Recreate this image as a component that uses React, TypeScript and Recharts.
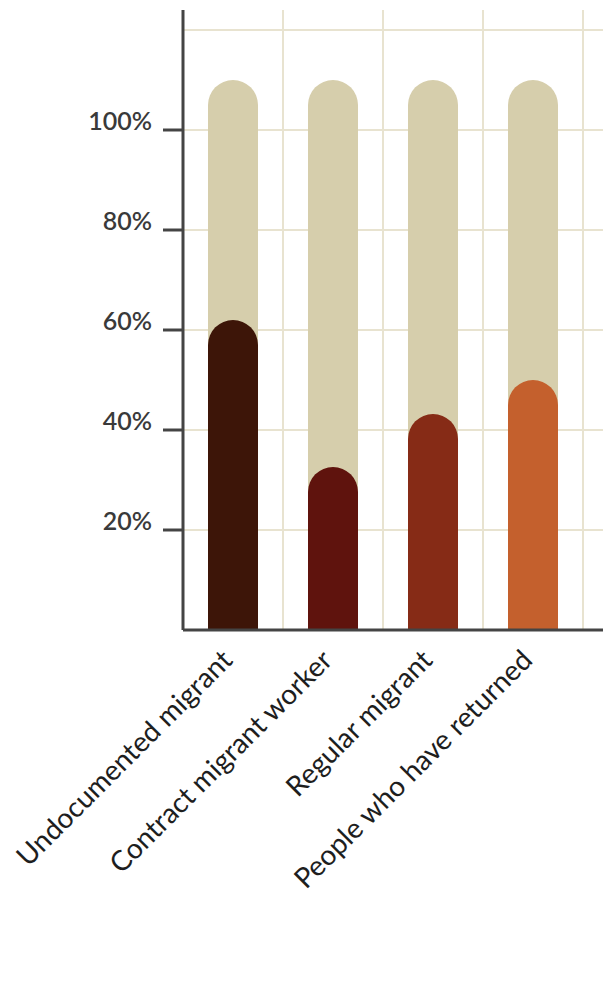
import { BarChart, Bar, XAxis, YAxis, CartesianGrid, Cell } from 'recharts';

const categories = ['Undocumented migrant', 'Contract migrant worker', 'Regular migrant', 'People who have returned'];
const shares = [0.62, 0.326, 0.432, 0.5];
const backdrop = [1.1, 1.1, 1.1, 1.1];
const barColors = ['#3d1508', '#5f130d', '#862b16', '#c4602d'];
const yTicks = [0, 0.2, 0.4, 0.6, 0.8, 1.0, 1.2];
const yMax = 1.24;

const data = categories.map((name, i) => ({ name, share: shares[i], backdrop: backdrop[i] }));

const FONT = 'Lato, "Noto Sans", sans-serif';
const GRID = '#e8e3d0';

const YTick = (props: any) => {
    const { x, y, payload } = props;
    if (payload.value === 0 || payload.value > 1.05) return null;
    return (
        <g>
            <line x1={x - 20} y1={y} x2={x} y2={y} stroke="#444" strokeWidth={3} />
            <text x={x - 31} y={y} textAnchor="end" fill="#3a3a3a" fontFamily={FONT} fontSize={25} fontWeight={600}>
                {Math.round(payload.value * 100)}%
            </text>
        </g>
    );
};

const XTick = (props: any) => {
    const { x, y, payload } = props;
    const ax = x + 1;
    const ay = y + 32;
    return (
        <text x={ax} y={ay} textAnchor="end" fill="#1e1e1e" fontFamily={FONT} fontSize={28} transform={`rotate(-45, ${ax}, ${ay})`}>
            {payload.value}
        </text>
    );
};

export default function App() {
    return (
        <div style={{ position: 'absolute', left: 0, top: 0 }}>
            <BarChart
                width={610}
                height={1000}
                data={data}
                margin={{ top: 10, right: 7, left: 0, bottom: 0 }}
                barGap={-50}
            >
                <CartesianGrid
                    stroke={GRID}
                    strokeWidth={2}
                    horizontalCoordinatesGenerator={({ offset }: any) =>
                        yTicks.map((t) => offset.top + offset.height * (1 - t / yMax))
                    }
                    verticalCoordinatesGenerator={({ offset }: any) => {
                        const band = (offset.width - 20) / categories.length;
                        return categories.map((_, i) => offset.left + band * (i + 1));
                    }}
                />
                <XAxis
                    dataKey="name"
                    height={370}
                    padding={{ left: 0, right: 20 }}
                    axisLine={{ stroke: '#444', strokeWidth: 3 }}
                    tickLine={false}
                    tickSize={0}
                    tickMargin={0}
                    interval={0}
                    tick={<XTick />}
                />
                <YAxis
                    width={183}
                    domain={[0, yMax]}
                    ticks={yTicks}
                    axisLine={{ stroke: '#444', strokeWidth: 3 }}
                    tickLine={false}
                    tickSize={0}
                    tickMargin={0}
                    interval={0}
                    tick={<YTick />}
                />
                <Bar dataKey="backdrop" barSize={50} fill="#d6ceac" radius={[25, 25, 0, 0]} isAnimationActive={false} />
                <Bar dataKey="share" barSize={50} radius={[25, 25, 0, 0]} isAnimationActive={false}>
                    {data.map((d, i) => (
                        <Cell key={d.name} fill={barColors[i]} />
                    ))}
                </Bar>
            </BarChart>
        </div>
    );
}
